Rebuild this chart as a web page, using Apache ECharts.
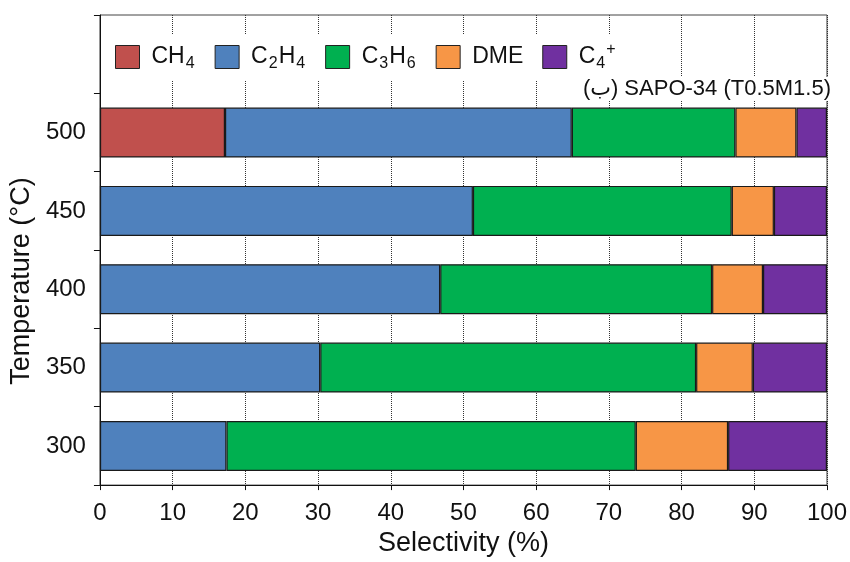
<!DOCTYPE html>
<html><head><meta charset="utf-8">
<script src="https://cdn.jsdelivr.net/npm/echarts@6/dist/echarts.min.js"></script>
<style>html,body{margin:0;padding:0;background:#fff}#c{width:850px;height:562px}</style>
</head><body><div id="c"></div>
<script>
const categories = ['300', '350', '400', '450', '500', ''];
const seriesNames = ['CH4', 'C2H4', 'C3H6', 'DME', 'C4+'];
const ch4  = [null, null, null, null, 17.2, null];
const c2h4 = [17.4, 30.3, 46.8, 51.3, 47.7, null];
const c3h6 = [56.3, 51.7, 37.4, 35.6, 22.5, null];
const dme  = [12.7, 7.8, 7.0, 5.8, 8.4, null];
const c4   = [13.6, 10.2, 8.8, 7.3, 4.2, null];
const xTicks = [0, 10, 20, 30, 40, 50, 60, 70, 80, 90, 100];
const subtitle = '(ب) SAPO-34 (T0.5M1.5)';

const FONT = "'Liberation Sans', Arial, 'DejaVu Sans', sans-serif";
const colors = ['#C0504D', '#4F81BD', '#00B050', '#F79646', '#7030A0'];
const values = [ch4, c2h4, c3h6, dme, c4];
const legendRich = {
  f: {fontSize: 23, fontFamily: FONT, color: '#111', lineHeight: 30, padding: [0, 0, 0, 7]},
  n: {fontSize: 23, fontFamily: FONT, color: '#111', lineHeight: 30},
  s: {fontSize: 16, fontFamily: FONT, color: '#111', lineHeight: 14, verticalAlign: 'bottom', padding: [0, 1, 0, 1]},
  p: {fontSize: 16, fontFamily: FONT, color: '#111', lineHeight: 14, verticalAlign: 'top', padding: [0, 1, 0, 0]}
};
const legendFmt = {
  'CH4': '{f|CH}{s|4}',
  'C2H4': '{f|C}{s|2}{n|H}{s|4}',
  'C3H6': '{f|C}{s|3}{n|H}{s|6}',
  'DME': '{f|DME}',
  'C4+': '{f|C}{s|4}{p|+}'
};

const chart = echarts.init(document.getElementById('c'), null, {renderer: 'canvas'});
chart.setOption({
  animation: false,
  backgroundColor: '#fff',
  textStyle: {fontFamily: FONT},
  grid: {left: 94, right: 22, top: 15, bottom: 67, show: true, borderColor: '#444', borderWidth: 1, backgroundColor: 'transparent'},
  title: {
    text: subtitle, right: 17, top: 77, padding: [1, 2],
    backgroundColor: '#fff',
    textStyle: {fontSize: 22, fontWeight: 'normal', color: '#111', fontFamily: FONT}
  },
  legend: {
    data: seriesNames, left: 106, top: 34, itemWidth: 24, itemHeight: 23, itemGap: 19,
    padding: [8, 9], backgroundColor: '#fff',
    icon: 'rect',
    itemStyle: {borderColor: '#222', borderWidth: 1},
    formatter: n => legendFmt[n],
    textStyle: {rich: legendRich, fontSize: 23, color: '#111'}
  },
  xAxis: {
    type: 'value', min: xTicks[0], max: xTicks[xTicks.length - 1], interval: 10,
    name: 'Selectivity (%)', nameLocation: 'middle', nameGap: 40,
    nameTextStyle: {fontSize: 27, color: '#111', fontFamily: FONT},
    axisLine: {show: true, lineStyle: {color: '#111', width: 1}},
    axisTick: {show: true, length: 5, lineStyle: {color: '#111'}},
    axisLabel: {fontSize: 24, color: '#111', margin: 16, fontFamily: FONT},
    splitLine: {show: true, lineStyle: {type: 'dotted', color: '#333', width: 1}}
  },
  yAxis: {
    type: 'category', data: categories,
    name: 'Temperature (°C)', nameLocation: 'middle', nameGap: 51,
    nameTextStyle: {fontSize: 27, color: '#111', fontFamily: FONT, padding: [0, 62, 0, 0]},
    axisLine: {show: true, lineStyle: {color: '#111', width: 1}},
    axisTick: {show: true, length: 6, inside: false, alignWithLabel: false, lineStyle: {color: '#111'}},
    axisLabel: {fontSize: 24, color: '#111', margin: 14, fontFamily: FONT},
    splitLine: {show: false}
  },
  series: seriesNames.map((name, i) => ({
    name, type: 'bar', stack: 'total', data: values[i], barWidth: 50,
    itemStyle: {color: colors[i], borderColor: '#1a1a1a', borderWidth: 1.2}
  }))
});
</script></body></html>
